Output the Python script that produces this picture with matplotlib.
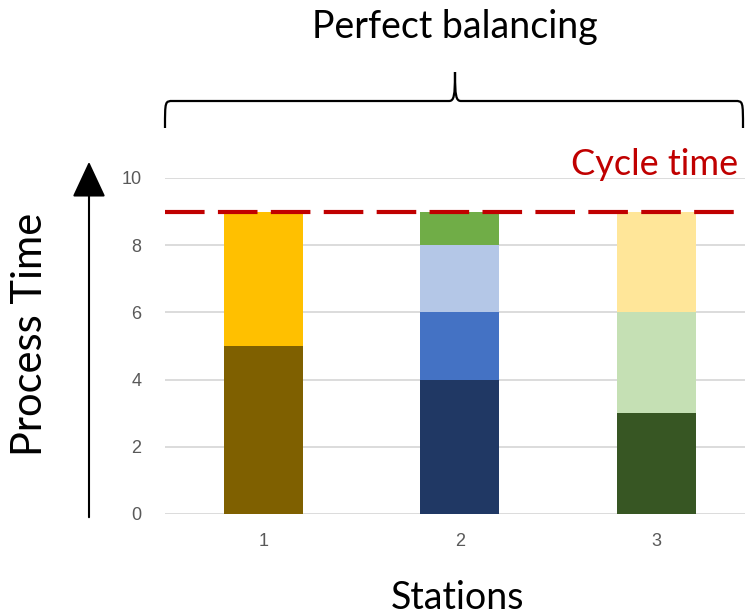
import matplotlib
matplotlib.use("Agg")
import matplotlib.pyplot as plt
from matplotlib.path import Path
from matplotlib.patches import PathPatch, FancyArrowPatch

stations = ["1", "2", "3"]
# stacked segments (bottom to top) per layer
layer1 = [5, 4, 3]
layer2 = [4, 2, 3]
layer3 = [0, 2, 3]
layer4 = [0, 1, 0]
layer_colors = [
    ["#7F6000", "#203864", "#375623"],
    ["#FFC000", "#4472C4", "#C5E0B4"],
    ["#FFFFFF", "#B4C7E7", "#FFE699"],
    ["#FFFFFF", "#70AD47", "#FFFFFF"],
]
cycle_time = 9
yticks = [0, 2, 4, 6, 8, 10]

plt.rcParams['font.family'] = ['Lato', 'DejaVu Sans']

W, H = 745, 615
fig = plt.figure(figsize=(W / 100, H / 100), dpi=100)
ax_left, ax_bottom, ax_top = 165, 514, 178
cat_w = 196.5
ax = fig.add_axes([ax_left / W, (H - ax_bottom) / H, 3 * cat_w / W, (ax_bottom - ax_top) / H])

x = list(range(1, len(stations) + 1))
bottom = [0, 0, 0]
for layer, cols in zip([layer1, layer2, layer3, layer4], layer_colors):
    vals = layer
    for i in range(len(x)):
        if vals[i] > 0:
            ax.bar(x[i], vals[i], bottom=bottom[i], width=0.40, color=cols[i], zorder=2)
    bottom = [b + v for b, v in zip(bottom, vals)]

ax.set_xlim(0.5, 3.5)
ax.set_ylim(0, 10)
ax.set_yticks(yticks)
ax.set_xticks(x)
ax.set_xticklabels(stations)
ax.grid(axis='y', color='#D9D9D9', linewidth=1.3, zorder=0)
ax.set_axisbelow(True)
for s in ax.spines.values():
    s.set_visible(False)
ax.tick_params(length=0, labelsize=13, colors='#595959')
ax.tick_params(axis='y', pad=17)
ax.tick_params(axis='x', pad=14)
for lab in ax.get_xticklabels() + ax.get_yticklabels():
    lab.set_family(['Liberation Sans', 'DejaVu Sans'])

# cycle time dashed line
ax.plot([0.5, 3.43], [cycle_time, cycle_time], color='#C00000', linewidth=3,
        dashes=(9.5, 3.2), zorder=3, clip_on=False)
ax.text(3.415, 10.08, "Cycle time", color='#C00000', fontsize=26, ha='right', va='baseline')

# vertical arrow
fig.add_artist(FancyArrowPatch((89 / W, 1 - 520 / H), (89 / W, 1 - 159 / H),
                               transform=fig.transFigure, arrowstyle='-|>,head_length=1.5,head_width=0.7',
                               mutation_scale=15, color='black', linewidth=1.5))
fig.text(30 / W, 1 - 334 / H, "Process Time", rotation=90, fontsize=30, ha='center', va='center')
fig.text(458 / W, 1 - 598 / H, "Stations", fontsize=27, ha='center', va='center')
fig.text(455 / W, 1 - 27 / H, "Perfect balancing", fontsize=27, ha='center', va='center')

# curly brace
def fx(px):
    return px / W
def fy(py):
    return 1 - py / H
l, r, mid, yb, yh, yt = 165, 743, 455, 128, 101, 72
verts = [
    (fx(l), fy(yb)), (fx(l), fy(yh)), (fx(l), fy(yh)), (fx(l + 8), fy(yh)),
    (fx(mid - 6), fy(yh)),
    (fx(mid - 1), fy(yh)), (fx(mid), fy(yh - 5)), (fx(mid), fy(yt)),
    (fx(mid), fy(yh - 5)), (fx(mid + 1), fy(yh)), (fx(mid + 6), fy(yh)),
    (fx(r - 8), fy(yh)),
    (fx(r), fy(yh)), (fx(r), fy(yh)), (fx(r), fy(yb)),
]
codes = [Path.MOVETO, Path.CURVE4, Path.CURVE4, Path.CURVE4,
         Path.LINETO,
         Path.CURVE4, Path.CURVE4, Path.CURVE4,
         Path.CURVE4, Path.CURVE4, Path.CURVE4,
         Path.LINETO,
         Path.CURVE4, Path.CURVE4, Path.CURVE4]
fig.add_artist(PathPatch(Path(verts, codes), transform=fig.transFigure, fill=False,
                         linewidth=1.6, edgecolor='black'))

fig.savefig("out.png", dpi=100)
